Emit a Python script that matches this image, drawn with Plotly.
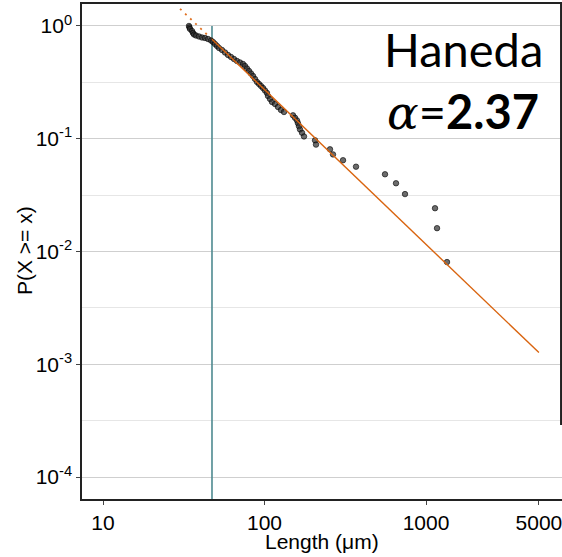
import plotly.graph_objects as go

lengths = [34.07, 34.32, 34.57, 35.57, 36.08, 36.60, 37.66, 39.30, 41.02, 42.82,
           44.69, 46.64, 47.99, 49.38, 50.81, 52.28, 54.56, 56.95, 59.43, 62.03,
           64.72, 67.54, 70.50, 73.58, 75.70, 77.89, 80.17, 82.49, 84.88, 87.34,
           89.87, 92.46, 95.13, 97.88, 100.7, 103.6, 105.1, 108.2, 111.3, 116.1,
           121.2, 126.5, 132.0, 150.1, 154.5, 158.9, 161.2, 163.5, 165.9, 170.7,
           175.6, 205.5, 208.4, 254.4, 265.5, 306.3, 368.6, 557.4, 651.9, 741.3,
           1137, 1170, 1349]
ccdf = [1.0, 0.970, 0.9406, 0.9030, 0.8667, 0.8407, 0.8236, 0.8070, 0.7907, 0.7827,
        0.7668, 0.7437, 0.7213, 0.6925, 0.6648, 0.6382, 0.6126, 0.5821, 0.5531, 0.5310,
        0.5097, 0.4893, 0.4746, 0.4603, 0.4418, 0.4198, 0.3990, 0.3791, 0.3601, 0.3388,
        0.3187, 0.3059, 0.2936, 0.2818, 0.2678, 0.2545, 0.2394, 0.2252, 0.2118, 0.2033,
        0.1912, 0.1799, 0.1727, 0.1613, 0.1532, 0.1452, 0.1371, 0.1290, 0.1210, 0.1129,
        0.1048, 0.0968, 0.0887, 0.0806, 0.0726, 0.0645, 0.0565, 0.0484, 0.0403, 0.0323,
        0.0242, 0.0161, 0.00806]

# Fitted power law (solid above xmin, dotted extension below)
fit_x = [47.3, 5000]
fit_p = [0.762, 0.00127]
ext_x = [30, 47.3]
ext_p = [1.42, 0.762]
xmin_line_x = [47.3, 47.3]
xmin_line_p = [1.0, 1e-5]

x_tickvals = [10, 100, 1000, 5000]
x_ticktext = ["10", "100", "1000", "5000"]
y_tickvals = [1, 0.1, 0.01, 0.001, 0.0001]
y_ticktext = ["10<sup>0</sup>", "10<sup>-1</sup>", "10<sup>-2</sup>", "10<sup>-3</sup>", "10<sup>-4</sup>"]
y_minor = [10 ** -0.5, 10 ** -1.5, 10 ** -2.5, 10 ** -3.5]

label_name = "Haneda"
alpha_text = "2.37"

fig = go.Figure()
fig.add_trace(go.Scatter(x=xmin_line_x, y=xmin_line_p, mode="lines",
                         line=dict(color="#4e8a90", width=1.6), hoverinfo="skip"))
fig.add_trace(go.Scatter(x=ext_x, y=ext_p, mode="lines",
                         line=dict(color="#e07020", width=1.8, dash="2px,5px"), hoverinfo="skip"))
fig.add_trace(go.Scatter(x=lengths, y=ccdf, mode="markers",
                         marker=dict(size=5.5, color="rgba(45,45,45,0.7)",
                                     line=dict(width=0.8, color="rgba(0,0,0,0.75)"))))
fig.add_trace(go.Scatter(x=fit_x, y=fit_p, mode="lines",
                         line=dict(color="#d9640f", width=1.4), hoverinfo="skip"))

fig.update_layout(
    width=562, height=557,
    margin=dict(l=82, r=0, t=4, b=58),
    paper_bgcolor="white", plot_bgcolor="white",
    showlegend=False,
    font=dict(family="Liberation Sans, Arial, sans-serif", size=21, color="black"),
    xaxis=dict(type="log", range=[0.870, 3.842], tickvals=x_tickvals, ticktext=x_ticktext,
               showgrid=False, zeroline=False, showline=True, linecolor="#222", linewidth=2,
               mirror=True, ticks="outside", ticklen=4, tickcolor="#444", automargin=False,
               ticklabeloverflow="allow"),
    yaxis=dict(type="log", range=[-4.195, 0.195], tickvals=y_tickvals, ticktext=y_ticktext,
               showgrid=True, gridcolor="#cfcfcf", gridwidth=1, zeroline=False,
               showline=True, linecolor="#222", linewidth=1.5,
               ticks="outside", ticklen=4, tickcolor="#444", automargin=False,
               minor=dict(tickvals=y_minor, showgrid=True, gridcolor="#e6e6e6", gridwidth=1, ticks="")),
    shapes=[dict(type="line", xref="paper", yref="paper", x0=0.998, x1=0.998, y0=0.1495, y1=1,
                 line=dict(color="#222", width=2))],
    annotations=[
        dict(text="Length (μm)", xref="paper", yref="paper", x=0.5, y=-0.085,
             xanchor="center", yanchor="middle", showarrow=False, font=dict(size=21)),
        dict(text="P(X >= x)", xref="paper", yref="paper", x=-0.1208, y=0.501,
             xanchor="center", yanchor="middle", textangle=-90, showarrow=False, font=dict(size=21)),
        dict(text=label_name, xref="paper", yref="paper", x=0.794, y=0.909,
             xanchor="center", yanchor="middle", showarrow=False,
             font=dict(family="Lato, Open Sans, sans-serif", size=47, color="black")),
        dict(text="<span style=\"font-family:'DejaVu Serif'\"><i>α</i></span>=<b>" + alpha_text + "</b>",
             xref="paper", yref="paper", x=0.794, y=0.782,
             xanchor="center", yanchor="middle", showarrow=False,
             font=dict(family="Lato, Open Sans, sans-serif", size=47, color="black")),
    ],
)

fig.write_html("out.html", config={"displayModeBar": False},
               post_script="document.body.style.margin='0';document.body.style.overflow='hidden';")
